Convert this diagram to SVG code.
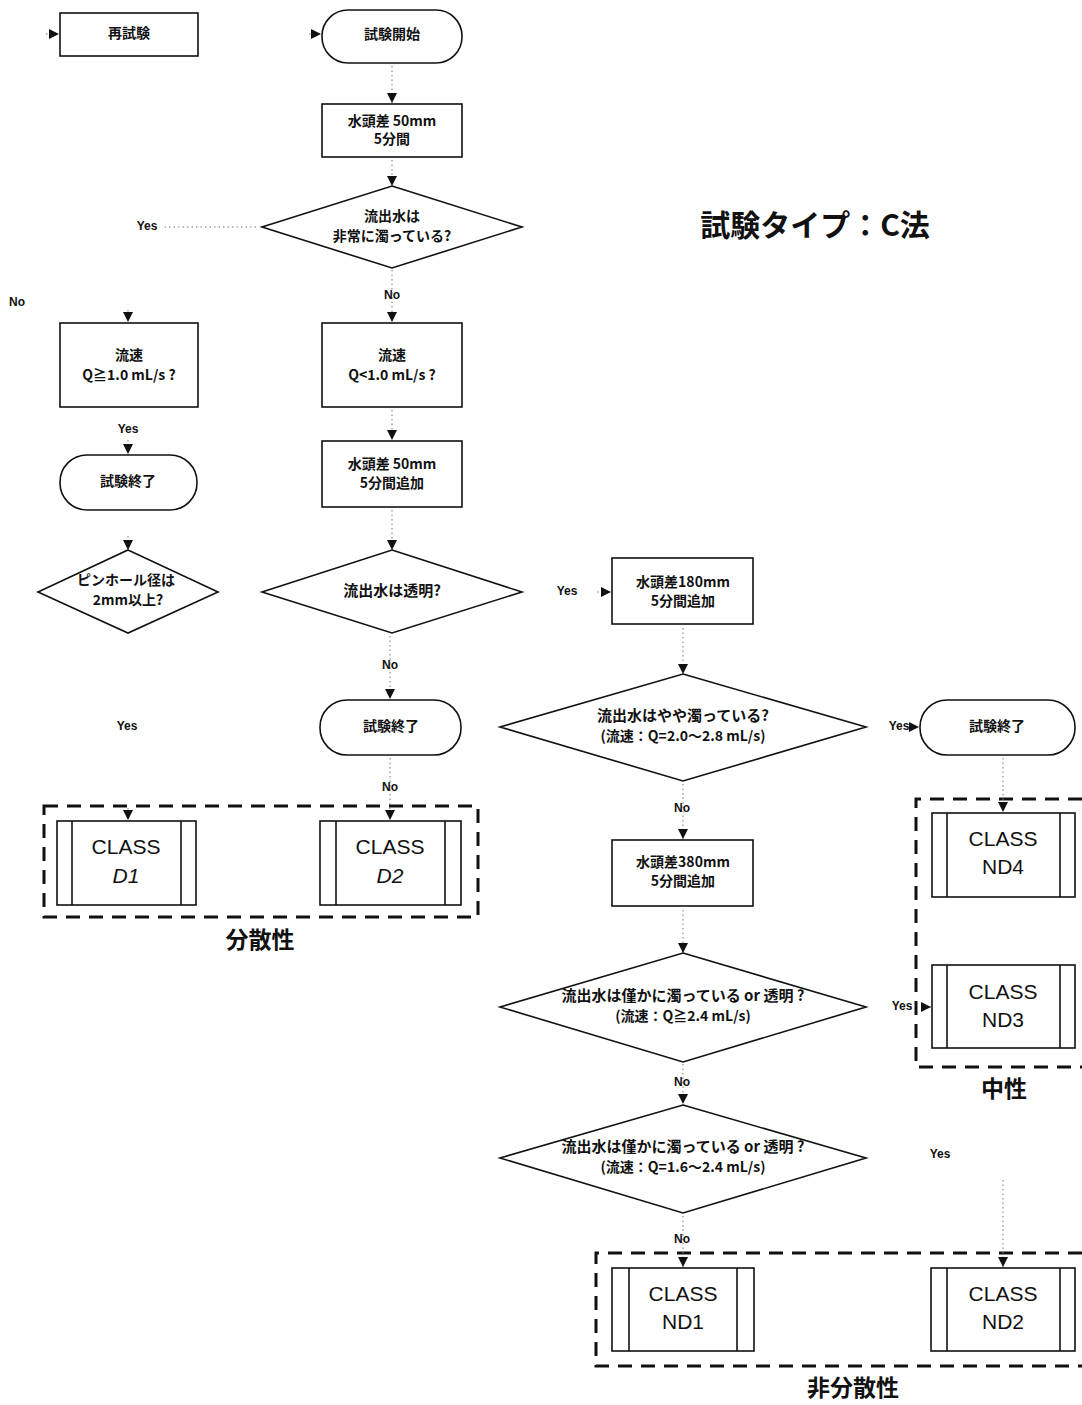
<svg xmlns="http://www.w3.org/2000/svg" width="1082" height="1405" viewBox="0 0 1082 1405">
<style>
.box{fill:#fff;stroke:#111;stroke-width:1.6}
.grp{fill:none;stroke:#111;stroke-width:3;stroke-dasharray:14 9}
.t{font-family:"Noto Sans CJK JP","Liberation Sans",sans-serif;font-size:14px;font-weight:bold;fill:#111;text-anchor:middle;dominant-baseline:middle}
.tw{font-size:15px}
.lbl{font-family:"Liberation Sans","Noto Sans CJK JP",sans-serif;font-size:12px;font-weight:bold;fill:#111;text-anchor:middle;dominant-baseline:middle}
.cls{font-family:"Liberation Sans",Arial,sans-serif;font-size:21px;fill:#111;text-anchor:middle;dominant-baseline:middle}
.big{font-family:"Noto Sans CJK JP",sans-serif;font-size:23px;font-weight:bold;fill:#111;text-anchor:middle;dominant-baseline:middle}
.con{fill:none;stroke:#777;stroke-width:1;stroke-dasharray:1.5 3;marker-end:url(#ah)}
.conn{fill:none;stroke:#777;stroke-width:1;stroke-dasharray:1.5 3}
</style>
<defs>
<marker id="ah" markerUnits="userSpaceOnUse" markerWidth="10" markerHeight="10" viewBox="0 0 10 10" refX="10" refY="5" orient="auto">
<path d="M0,0 L10,5 L0,10 z" fill="#111"/>
</marker>
</defs>
<rect width="1082" height="1405" fill="#fff"/>

<text x="815" y="228" font-family="Noto Sans CJK JP,sans-serif" font-size="30" font-weight="bold" fill="#111" text-anchor="middle" dominant-baseline="middle">試験タイプ：C法</text>

<g id="n-retest"><rect class="box" x="60" y="13" width="138" height="43"/><text class="t" x="129" y="34">再試験</text></g>
<g id="n-start"><rect class="box" x="322" y="10" width="140" height="53" rx="26"/><text class="t" x="392" y="35">試験開始</text></g>
<g id="n-head50"><rect class="box" x="322" y="104" width="140" height="53"/><text class="t" x="392" y="122">水頭差 50mm</text><text class="t" x="392" y="140">5分間</text></g>
<g id="n-d1"><polygon class="box" points="392,186 522,227 392,268 262,227"/><text class="t" x="392" y="217">流出水は</text><text class="t" x="392" y="237">非常に濁っている?</text></g>
<g id="n-flowL"><rect class="box" x="60" y="323" width="138" height="84"/><text class="t" x="129" y="356">流速</text><text class="t" x="129" y="376">Q≧1.0 mL/s ?</text></g>
<g id="n-flowR"><rect class="box" x="322" y="323" width="140" height="84"/><text class="t" x="392" y="356">流速</text><text class="t" x="392" y="376">Q&lt;1.0 mL/s ?</text></g>
<g id="n-endL"><rect class="box" x="60" y="455" width="137" height="55" rx="27"/><text class="t" x="128" y="482">試験終了</text></g>
<g id="n-head50b"><rect class="box" x="322" y="441" width="140" height="66"/><text class="t" x="392" y="465">水頭差 50mm</text><text class="t" x="392" y="484">5分間追加</text></g>
<g id="n-pin"><polygon class="box" points="128,550 218,592 128,633 38,592"/><text class="t" x="126" y="581">ピンホール径は</text><text class="t" x="128" y="601">2mm以上?</text></g>
<g id="n-clear"><polygon class="box" points="392,550 522,592 392,633 262,592"/><text class="t tw" x="392" y="592">流出水は透明?</text></g>
<g id="n-head180"><rect class="box" x="612" y="558" width="141" height="66"/><text class="t" x="683" y="583">水頭差180mm</text><text class="t" x="683" y="602">5分間追加</text></g>
<g id="n-endM"><rect class="box" x="320" y="700" width="141" height="55" rx="27"/><text class="t" x="391" y="727">試験終了</text></g>
<g id="n-slight"><polygon class="box" points="683,674 866,727 683,781 500,727"/><text class="t tw" x="683" y="717">流出水はやや濁っている?</text><text class="t" x="683" y="737">(流速：Q=2.0～2.8 mL/s)</text></g>
<g id="n-endR"><rect class="box" x="920" y="700" width="155" height="55" rx="27"/><text class="t" x="997" y="727">試験終了</text></g>
<g id="n-head380"><rect class="box" x="612" y="840" width="141" height="66"/><text class="t" x="683" y="863">水頭差380mm</text><text class="t" x="683" y="882">5分間追加</text></g>
<g id="n-d24"><polygon class="box" points="683,953 866,1007 683,1062 500,1007"/><text class="t tw" x="683" y="997">流出水は僅かに濁っている or 透明 ?</text><text class="t" x="683" y="1017">(流速：Q≧2.4 mL/s)</text></g>
<g id="n-d16"><polygon class="box" points="683,1105 866,1158 683,1213 500,1158"/><text class="t tw" x="683" y="1148">流出水は僅かに濁っている or 透明 ?</text><text class="t" x="683" y="1168">(流速：Q=1.6～2.4 mL/s)</text></g>

<g id="g-disp"><rect class="grp" x="44" y="806" width="434" height="111"/><text class="big" x="260" y="942">分散性</text></g>
<g id="n-D1"><rect class="box" x="57" y="821" width="139" height="84"/><line class="box" x1="72" y1="821" x2="72" y2="905"/><line class="box" x1="181" y1="821" x2="181" y2="905"/><text class="cls" x="126" y="848">CLASS</text><text class="cls" x="126" y="877" font-style="italic">D1</text></g>
<g id="n-D2"><rect class="box" x="320" y="821" width="141" height="84"/><line class="box" x1="336" y1="821" x2="336" y2="905"/><line class="box" x1="445" y1="821" x2="445" y2="905"/><text class="cls" x="390" y="848">CLASS</text><text class="cls" x="390" y="877" font-style="italic">D2</text></g>

<g id="g-neutral"><path class="grp" d="M1082,799 H916 V1067 H1082"/><text class="big" x="1004" y="1091">中性</text></g>
<g id="n-ND4"><rect class="box" x="932" y="813" width="143" height="84"/><line class="box" x1="947" y1="813" x2="947" y2="897"/><line class="box" x1="1060" y1="813" x2="1060" y2="897"/><text class="cls" x="1003" y="840">CLASS</text><text class="cls" x="1003" y="868">ND4</text></g>
<g id="n-ND3"><rect class="box" x="932" y="965" width="143" height="83"/><line class="box" x1="947" y1="965" x2="947" y2="1048"/><line class="box" x1="1060" y1="965" x2="1060" y2="1048"/><text class="cls" x="1003" y="993">CLASS</text><text class="cls" x="1003" y="1021">ND3</text></g>

<g id="g-nondisp"><path class="grp" d="M1082,1253 H596 V1366 H1082"/><text class="big" x="853" y="1390">非分散性</text></g>
<g id="n-ND1"><rect class="box" x="612" y="1268" width="142" height="83"/><line class="box" x1="629" y1="1268" x2="629" y2="1351"/><line class="box" x1="737" y1="1268" x2="737" y2="1351"/><text class="cls" x="683" y="1295">CLASS</text><text class="cls" x="683" y="1323">ND1</text></g>
<g id="n-ND2"><rect class="box" x="931" y="1268" width="144" height="83"/><line class="box" x1="947" y1="1268" x2="947" y2="1351"/><line class="box" x1="1060" y1="1268" x2="1060" y2="1351"/><text class="cls" x="1003" y="1295">CLASS</text><text class="cls" x="1003" y="1323">ND2</text></g>

<g id="connectors">
<path class="con" d="M46,34 H59"/>
<path class="con" d="M309,34 H321"/>
<path class="con" d="M392,66 V103"/>
<path class="con" d="M392,160 V186"/>
<path class="conn" d="M256,227 H162"/>
<path class="con" d="M392,270 V322"/>
<path class="con" d="M128,310 V322"/>
<path class="con" d="M392,410 V440"/>
<path class="con" d="M128,440 V454"/>
<path class="con" d="M128,536 V550"/>
<path class="con" d="M392,510 V550"/>
<path class="con" d="M597,592 H611"/>
<path class="con" d="M390,636 V699"/>
<path class="con" d="M390,758 V820"/>
<path class="con" d="M128,808 V820"/>
<path class="con" d="M683,628 V674"/>
<path class="con" d="M911,727 H919"/>
<path class="con" d="M683,784 V839"/>
<path class="con" d="M1003,758 V812"/>
<path class="con" d="M683,910 V953"/>
<path class="con" d="M921,1007 H931"/>
<path class="con" d="M683,1064 V1104"/>
<path class="con" d="M683,1216 V1267"/>
<path class="con" d="M1003,1180 V1267"/>
<text class="lbl" x="147" y="227">Yes</text>
<text class="lbl" x="392" y="296">No</text>
<text class="lbl" x="17" y="303">No</text>
<text class="lbl" x="128" y="430">Yes</text>
<text class="lbl" x="567" y="592">Yes</text>
<text class="lbl" x="390" y="666">No</text>
<text class="lbl" x="127" y="727">Yes</text>
<text class="lbl" x="390" y="788">No</text>
<text class="lbl" x="899" y="727">Yes</text>
<text class="lbl" x="682" y="809">No</text>
<text class="lbl" x="902" y="1007">Yes</text>
<text class="lbl" x="682" y="1083">No</text>
<text class="lbl" x="940" y="1155">Yes</text>
<text class="lbl" x="682" y="1240">No</text>
</g>
</svg>
